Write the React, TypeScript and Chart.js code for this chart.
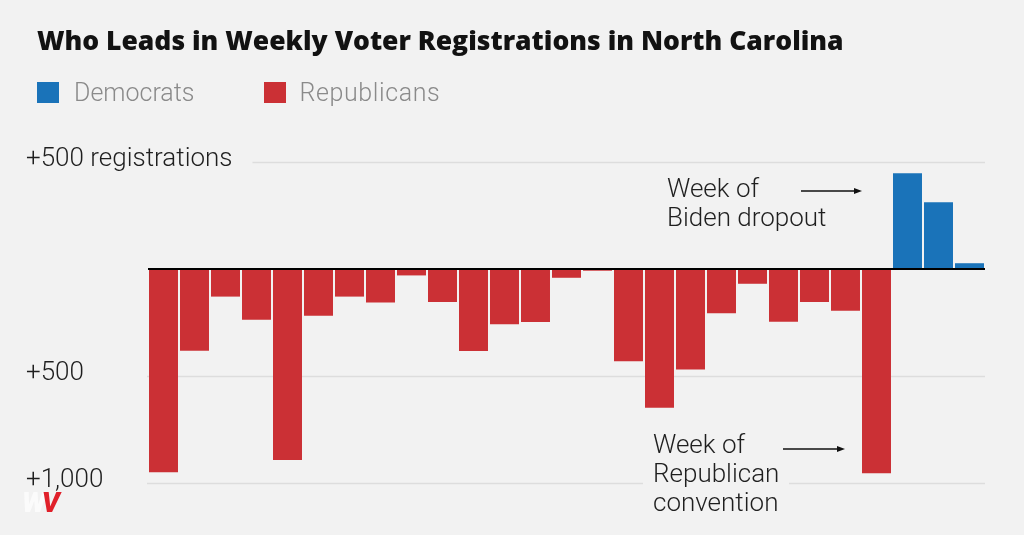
import React, { useEffect, useRef } from "react";
import { Chart, registerables } from "chart.js";

Chart.register(...registerables);

// ---- data ----
const weeks: string[] = Array.from({ length: 27 }, (_, i) => `Week ${i + 1}`);
// Republican weekly registration lead (registrations), weeks 1–24
const republicanLead: number[] = [
  950, 382, 129, 237, 893, 218, 129, 156, 30, 154, 383, 258, 248, 41, 8, 431,
  648, 470, 207, 69, 246, 154, 195, 954,
];
// Democratic weekly registration lead, weeks 25–27
const democratLead: number[] = [447, 312, 27];
const tickValues: number[] = [500, -500, -1000];
const tickLabels: string[] = ["+500 registrations", "+500", "+1,000"];

const RED = "#cb3035";
const BLUE = "#1a73b9";
const BG = "#f2f2f2";
const FONT = "Roboto, 'Liberation Sans', sans-serif";

export default function App() {
  const ref = useRef<HTMLCanvasElement | null>(null);

  useEffect(() => {
    if (!ref.current) return;
    const nRep = republicanLead.length;
    const repData = weeks.map((_, i) => (i < nRep ? -republicanLead[i] : null));
    const demData = weeks.map((_, i) =>
      i >= nRep && i - nRep < democratLead.length ? democratLead[i - nRep] : null
    );

    const gridPlugin = {
      id: "customGrid",
      beforeDatasetsDraw(chart: any) {
        const { ctx, chartArea, scales } = chart;
        const y = scales.y;
        ctx.save();
        ctx.font = `300 26px ${FONT}`;
        tickValues.forEach((v, i) => {
          const py = Math.round(y.getPixelForValue(v)) + 0.5;
          const labelEnd = 26 + ctx.measureText(tickLabels[i]).width;
          const startX = labelEnd + 18 > chartArea.left ? labelEnd + 20 : chartArea.left - 1;
          ctx.strokeStyle = "#dddddd";
          ctx.lineWidth = 1.5;
          ctx.beginPath();
          ctx.moveTo(startX, py);
          ctx.lineTo(chartArea.right, py);
          ctx.stroke();
          ctx.fillStyle = "#1f1f1f";
          ctx.textBaseline = "middle";
          ctx.textAlign = "left";
          ctx.fillText(tickLabels[i], 26, py - 3);
        });
        ctx.restore();
      },
      afterDatasetsDraw(chart: any) {
        const { ctx, chartArea, scales } = chart;
        const py = scales.y.getPixelForValue(0);
        ctx.save();
        ctx.strokeStyle = "#000";
        ctx.lineWidth = 2.2;
        ctx.beginPath();
        ctx.moveTo(chartArea.left, py);
        ctx.lineTo(chartArea.right, py);
        ctx.stroke();
        ctx.restore();
      },
    };

    const chart = new Chart(ref.current, {
      type: "bar",
      data: {
        labels: weeks,
        datasets: [
          {
            label: "Democrats",
            data: demData,
            backgroundColor: BLUE,
            categoryPercentage: 1,
            barPercentage: 0.935,
          },
          {
            label: "Republicans",
            data: repData,
            backgroundColor: RED,
            categoryPercentage: 1,
            barPercentage: 0.935,
          },
        ],
      },
      options: {
        responsive: false,
        animation: false,
        layout: { padding: { left: 148, right: 39, top: 162, bottom: 52 } },
        plugins: { legend: { display: false }, tooltip: { enabled: false }, title: { display: false } },
        scales: {
          x: { display: false, stacked: true },
          y: { display: false, stacked: true, min: -1000, max: 500 },
        },
      },
      plugins: [gridPlugin],
    });
    return () => chart.destroy();
  }, []);

  const lightText: React.CSSProperties = {
    position: "absolute",
    fontFamily: FONT,
    fontWeight: 300,
    fontSize: 26,
    lineHeight: "29px",
    color: "#1f1f1f",
    whiteSpace: "nowrap",
  };

  return (
    <div
      style={{
        position: "fixed",
        left: 0,
        top: 0,
        width: 1024,
        height: 535,
        background: BG,
        overflow: "hidden",
      }}
    >
      <canvas ref={ref} width={1024} height={535} style={{ position: "absolute", left: 0, top: 0 }} />
      <div
        style={{
          position: "absolute",
          left: 37,
          top: 22,
          fontFamily: "'Open Sans', Roboto, sans-serif",
          fontWeight: 800,
          fontSize: 26.5,
          lineHeight: "36px",
          color: "#121212",
          whiteSpace: "nowrap",
        }}
      >
        Who Leads in Weekly Voter Registrations in North Carolina
      </div>
      <div style={{ position: "absolute", left: 37, top: 78, display: "flex", alignItems: "center", fontFamily: FONT, fontWeight: 300, fontSize: 25, color: "#8a8a8a" }}>
        <span style={{ width: 22, height: 21, background: BLUE, display: "inline-block", marginRight: 15 }} />
        <span style={{ marginRight: 70 }}>Democrats</span>
        <span style={{ width: 22, height: 21, background: RED, display: "inline-block", marginRight: 13 }} />
        <span style={{ letterSpacing: 0.6 }}>Republicans</span>
      </div>
      <div style={{ ...lightText, left: 667, top: 174 }}>
        Week of
        <br />
        Biden dropout
      </div>
      <div style={{ ...lightText, left: 643, top: 430, padding: "0 10px", background: BG }}>
        Week of
        <br />
        Republican
        <br />
        convention
      </div>
      <svg width={1024} height={535} style={{ position: "absolute", left: 0, top: 0, pointerEvents: "none" }}>
        <line x1={801} y1={191} x2={856} y2={191} stroke="#111" strokeWidth={1.3} />
        <polygon points="862,191 854,188 854,194" fill="#111" />
        <line x1={783} y1={449} x2={839} y2={449} stroke="#111" strokeWidth={1.3} />
        <polygon points="845,449 837,446 837,452" fill="#111" />
      </svg>
      <div
        style={{
          position: "absolute",
          left: 22,
          top: 486,
          fontFamily: FONT,
          fontWeight: 900,
          fontStyle: "italic",
          fontSize: 28,
          letterSpacing: -4,
        }}
      >
        <span style={{ color: "#fbfbfb" }}>W</span>
        <span style={{ color: "#e0202a" }}>V</span>
      </div>
    </div>
  );
}
